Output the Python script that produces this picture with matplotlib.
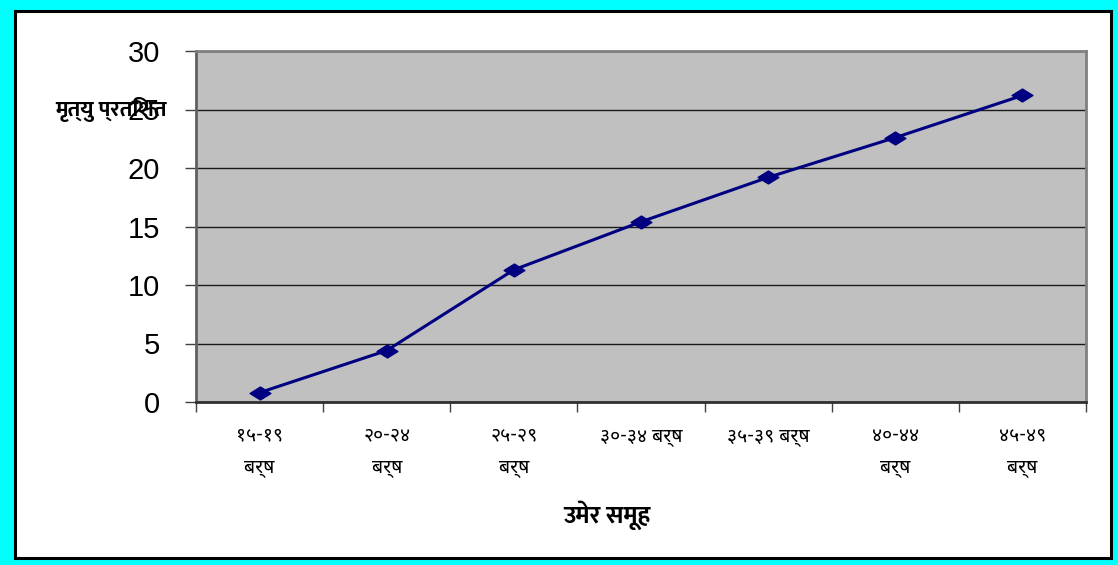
import numpy as np
import matplotlib
matplotlib.use("Agg")
import matplotlib.pyplot as plt
from matplotlib.patches import Rectangle
from matplotlib.path import Path

# -------------------------------
# Data
# -------------------------------
age_groups = ["१५-१९\nबर्ष", "२०-२४\nबर्ष", "२५-२९\nबर्ष", "३०-३४ बर्ष",
              "३५-३९ बर्ष", "४०-४४\nबर्ष", "४५-४९\nबर्ष"]
death_pct = [0.8, 4.4, 11.3, 15.4, 19.2, 22.6, 26.2]
y_ticks = [0, 5, 10, 15, 20, 25, 30]

ylabel_text = "मृत्यु प्रतिशत"
xlabel_text = "उमेर समूह"

# fonts
deva = ["Noto Sans Devanagari", "Mukta", "Noto Sans", "DejaVu Sans"]
deva_bold = ["Mukta", "Noto Sans Devanagari", "Noto Sans", "DejaVu Sans"]
latin = ["Liberation Sans", "DejaVu Sans"]

W, H = 1118, 565
fig = plt.figure(figsize=(W / 100, H / 100), dpi=100)
fig.patch.set_facecolor("#00FFFF")

# white panel with black frame (behind everything)
frame = Rectangle((14.5 / W, (H - 557.5) / H), (1111 - 14.5) / W, (557.5 - 10.5) / H,
                  transform=fig.transFigure, facecolor="white", edgecolor="black",
                  linewidth=2.2, zorder=-10)
fig.patches.append(frame)

# plot area
ax = fig.add_axes([196 / W, (H - 402) / H, (1086 - 196) / W, (402 - 51) / H])
ax.set_facecolor("#C0C0C0")

x = np.arange(len(age_groups))

# flattened diamond marker like the original
diamond = Path([(-1, 0), (0, 0.62), (1, 0), (0, -0.62), (-1, 0)],
               [Path.MOVETO, Path.LINETO, Path.LINETO, Path.LINETO, Path.CLOSEPOLY])
ax.plot(x, death_pct, color="#000080", lw=2.2, marker=diamond, markersize=15,
        markerfacecolor="#000080", markeredgecolor="#000080", zorder=3, clip_on=False)

ax.set_xlim(-0.5, len(age_groups) - 0.5)
ax.set_ylim(0, 30)

# y axis
ax.set_yticks(y_ticks)
ax.set_yticklabels([str(v) for v in y_ticks], family=latin, fontsize=21)
ax.tick_params(axis="y", length=8, width=1, color="#404040", pad=18)
ax.yaxis.grid(True, color="#1a1a1a", lw=1)
ax.set_axisbelow(True)

# x axis: labels at centres, tick marks at boundaries
ax.set_xticks(x)
ax.set_xticklabels(age_groups, family=deva, fontsize=14, linespacing=1.75)
ax.tick_params(axis="x", which="major", length=0, pad=17)
ax.set_xticks(np.arange(-0.5, len(age_groups)), minor=True)
ax.tick_params(axis="x", which="minor", length=7, width=1, color="#404040")

for s in ["top", "right"]:
    ax.spines[s].set_color("#808080")
    ax.spines[s].set_linewidth(2)
ax.spines["left"].set_color("#606060")
ax.spines["left"].set_linewidth(2)
ax.spines["bottom"].set_color("#303030")
ax.spines["bottom"].set_linewidth(2)

# axis titles, placed like the original
fig.text(111 / W, (H - 110) / H, ylabel_text, family=deva_bold, fontsize=16,
         fontweight="bold", ha="center", va="center", zorder=5)
fig.text(607 / W, (H - 515) / H, xlabel_text, family=deva_bold, fontsize=18,
         fontweight="bold", ha="center", va="center")

fig.savefig("out.png", dpi=100, facecolor=fig.get_facecolor())
